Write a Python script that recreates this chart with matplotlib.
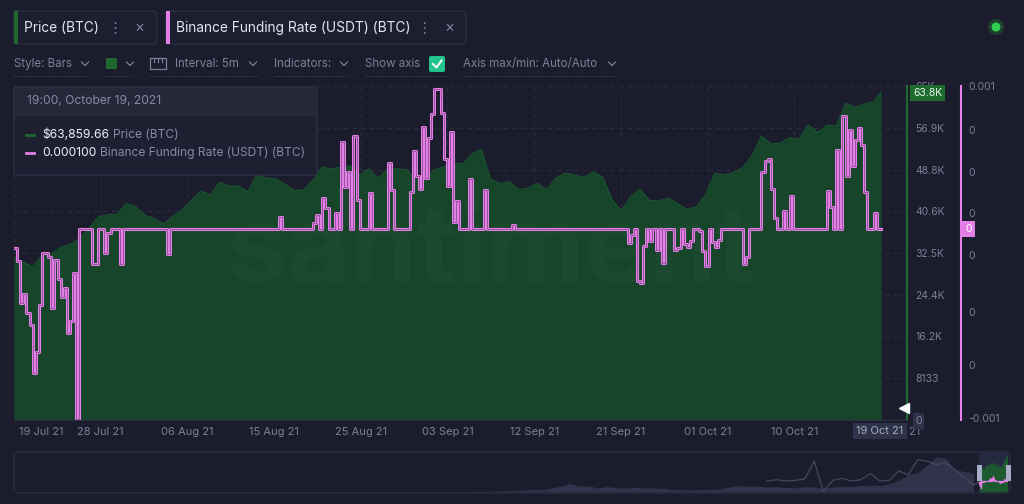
import matplotlib

matplotlib.use("Agg")
import matplotlib.pyplot as plt
import matplotlib.patches as mpatches
from matplotlib.transforms import ScaledTranslation
import pandas as pd

W, H = 1024, 504
BG = "#1b1d2d"
GRID = "#2a2d40"
GREY = "#7c8098"
GREEN_FILL = "#16452a"
GREEN = "#1e6a2e"
PINK = "#e37fe6"
plt.rcParams["font.family"] = ["Inter", "DejaVu Sans"]

# BTC price, one value per day from 19 Jul 2021, then the 19:00 value on 19 Oct
PRICE_START = "2021-07-19"
PRICE_DAILY = [
    31500, 30800, 29800, 32100, 32300, 33600, 34200, 35400, 37300, 39500,
    40000, 40000, 42200,
    41600, 39900, 39200, 38200, 39700, 40900, 42800, 44600, 43800, 46300,
    45600, 45600, 44400, 47800, 47100, 47000, 45900, 44700, 44800, 46700,
    49300, 48900, 49300, 49500, 47700, 48900, 47000, 49000, 48900, 48800,
    46900,
    47100, 48800, 49300, 50000, 49900, 51800, 52700, 46900, 46100, 46400,
    44900, 45200, 46100, 44900, 47100, 48100, 47700, 47300, 48300, 47300,
    43000, 40700, 43600, 44900, 42800, 42700, 43200, 42200, 41000, 41500,
    43800, 48100, 47700, 48200, 49200, 51500, 55300, 53800, 53900, 55000,
    54700, 57500, 56000, 57400, 57300, 61700, 60900, 61500, 62000,
]
PRICE_LAST_TIME = "2021-10-19 19:00"
PRICE_LAST = 63859.66

# Binance funding rate: 8h period index where the value changes, and the value
FUNDING_PERIOD = [
    0, 1, 2, 3, 4, 5, 6, 7, 8, 9, 11, 12, 13, 14, 15, 16, 17, 18, 19, 20,
    21, 25, 27, 29, 30, 31, 34, 35, 49, 50, 85, 86, 96, 97, 98, 99, 100, 101,
    103, 104, 105, 106, 107, 108, 109, 110, 111, 114, 115, 120, 121, 122,
    127, 128, 129, 130, 131, 132, 133, 134, 135, 137, 138, 139, 140, 141,
    142, 143, 146, 147, 151, 152, 160, 161, 197, 198, 199, 200, 201, 202,
    203, 204, 205, 206, 207, 208, 209, 212, 213, 214, 215, 216, 217, 218,
    220, 221, 222, 223, 224, 225, 226, 227, 234, 235, 236, 240, 241, 242,
    243, 244, 245, 247, 248, 249, 250, 261, 262, 263, 264, 265, 266, 267,
    268, 269, 270, 271, 272, 273, 274, 276, 277,
]
FUNDING_VALUE = [
    -0.000003, -0.000071, -0.000293, -0.000245, -0.000345, -0.000409,
    -0.000662, -0.000551, -0.000303, -0.000029, -0.000050, -0.000319,
    -0.000066, -0.000166, -0.000261, -0.000214, -0.000451, -0.000388,
    -0.000135, -0.000904,
    0.0001, -0.000087, 0.0001, -0.000029, 0.000076, 0.0001, -0.000087,
    0.0001, -0.000034, 0.0001, 0.000161, 0.0001, 0.000129, 0.000171, 0.0001,
    0.000261, 0.000208, 0.0001,
    0.000182, 0.0001, 0.000556, 0.000319, 0.000398, 0.0001, 0.000588,
    0.000250, 0.0001, 0.000287, 0.0001, 0.000445, 0.000303, 0.0001,
    0.000292, 0.000509, 0.000377, 0.000308, 0.000635, 0.000366, 0.000577,
    0.000704, 0.000835, 0.000709, 0.000466, 0.000324, 0.000609, 0.000134,
    0.000245, 0.0001, 0.000361, 0.0001, 0.000303, 0.0001, 0.000118, 0.0001,
    0.000024, 0.000066, 0.0001, -0.000177, -0.000187, 0.000008,
    0.0001, 0.000034, 0.0001, -0.000013, 0.0001, -0.000082, 0.0001,
    -0.000013, -0.000003, 0.0001, 0.000018, 0.000002, 0.000034, 0.0001,
    0.000087, -0.000019, -0.000098, 0.0001, 0.000029, 0.000002, 0.000039,
    0.0001, -0.000087, -0.000050, 0.0001, 0.000398, 0.000456, 0.000466,
    0.000308, 0.000155, 0.0001, 0.000192, 0.0001, 0.000271, 0.0001,
    0.000298, 0.000213, 0.0001, 0.000514, 0.0001, 0.000693, 0.000377,
    0.000619, 0.000429, 0.000567, 0.000630, 0.000540, 0.000292, 0.0001,
    0.000182, 0.0001,
]

PRICE_TICKS = [0, 8133, 16266, 24399, 32532, 40665, 48798, 56931, 65064]
PRICE_TICK_LABELS = ["0", "8133", "16.2K", "24.4K", "32.5K", "40.6K",
                     "48.8K", "56.9K", "65K"]
FUNDING_LIM = (-0.000909, 0.000851)
FUNDING_TICKS = [0.00085, 0.00062, 0.0004, 0.00018, -0.00004, -0.00034,
                 -0.00062, -0.0009]
FUNDING_TICK_LABELS = ["0.001", "0", "0", "0", "0", "0", "0", "-0.001"]

# navigator: monthly BTC price since Jan 2013 and monthly funding since Sep 2019
NAV_PRICE_START = "2013-01-01"
NAV_PRICE = [
    20, 33, 93, 139, 129, 97, 106, 135, 133, 198, 1130, 754,
    830, 550, 457, 447, 630, 640, 586, 480, 386, 338, 378, 320,
    217, 254, 244, 236, 230, 263, 284, 230, 236, 314, 377, 430,
    369, 437, 416, 448, 531, 673, 624, 575, 609, 700, 742, 963,
    970, 1190, 1080, 1350, 2300, 2480, 2875, 4700, 4340, 6470, 10200, 14150,
    10200, 10300, 6930, 9240, 7500, 6400, 7730, 7030, 6630, 6320, 4020, 3740,
    3460, 3850, 4100, 5350, 8570, 10800, 10080, 9630, 8290, 9200, 7570, 7190,
    9350, 8600, 6440, 8660, 9460, 9140, 11320, 11650, 10780, 13800, 19700,
    29000,
    33100, 45200, 58900, 57700, 37300, 35000, 31500,
]
NAV_FUNDING_START = "2019-09-01"
NAV_FUNDING = [
    0.0001, 0.0003, 0.0001, 0.0002, 0.0004, 0.0030, -0.0014, 0.0002, 0.0005,
    0.0001, 0.0003, 0.0012, 0.0001, 0.0002, 0.0016, 0.0010, 0.0032, 0.0030,
    0.0025, 0.0028, 0.0018, 0.0006, -0.0005,
]


def fx(x):
    return x / W


def fy(y):
    return 1 - y / H


price_dates = list(pd.date_range(PRICE_START, periods=len(PRICE_DAILY), freq="D"))
price_dates.append(pd.Timestamp(PRICE_LAST_TIME))
price_vals = PRICE_DAILY + [PRICE_LAST]
t0 = price_dates[0]
t_end = price_dates[-1]
span = t_end - t0

fund_times = [t0 + pd.Timedelta(hours=8 * k) for k in FUNDING_PERIOD] + [t_end]
fund_vals = FUNDING_VALUE + [FUNDING_VALUE[-1]]

fig = plt.figure(figsize=(W / 100, H / 100), dpi=100, facecolor=BG)

# ---------------- main chart ----------------
ax = fig.add_axes([fx(14), fy(420), fx(907 - 14), (420 - 86) / H])
ax.set_facecolor("none")
ax.fill_between(price_dates, price_vals, 0, color=GREEN_FILL, lw=0, zorder=1)
ax.plot(price_dates, price_vals, color="#1a5530", lw=0.8, zorder=1.2)
ax.set_xlim(t0, t_end + span * (26 / 867))
ax.set_ylim(0, PRICE_TICKS[-1])

ax2 = ax.twinx()
ax2.set_ylim(*FUNDING_LIM)

ticks = [t0 + span * (i / 10) for i in range(11)]
ax.set_xticks(ticks)
ax.set_xticklabels([t.strftime("%d %b %y") for t in ticks])
ax.tick_params(axis="x", length=0, pad=5, labelsize=8, labelcolor=GREY)
xl = ax.get_xticklabels()
xl[0].set_ha("left")
xl[0].set_transform(xl[0].get_transform() + ScaledTranslation(5 / 100, 0, fig.dpi_scale_trans))
xl[-1].set_transform(xl[-1].get_transform() + ScaledTranslation(16 / 100, 0, fig.dpi_scale_trans))

ax.yaxis.tick_right()
ax.set_yticks(PRICE_TICKS)
ax.set_yticklabels(PRICE_TICK_LABELS)
ax.tick_params(axis="y", which="both", left=False, labelleft=False, right=True,
               labelright=True, length=0, pad=6, labelsize=7.5, labelcolor=GREY)
ax.get_yticklabels()[0].set_bbox(dict(boxstyle="square,pad=0.25", fc="#2f3349", ec="none"))
ax.grid(True, color=GRID, linestyle=(0, (4, 4)), lw=0.8)
ax.set_axisbelow(True)
for side in ["left", "top"]:
    ax.spines[side].set_visible(False)
ax.spines["bottom"].set_color("#2c2f44")
ax.spines["right"].set_color(GREEN)
ax.spines["right"].set_linewidth(1.5)

ax.text(0.535, 0.5, "santiment", transform=ax.transAxes, ha="center", va="center",
        fontsize=78, color="white", alpha=0.022, zorder=3, fontweight="bold")

# funding line: pink stroke with a thin darker core
ax2.step(fund_times, fund_vals, where="post", color=PINK, lw=2.2, zorder=4)
ax2.step(fund_times, fund_vals, where="post", color="#7a4380", lw=0.5, zorder=5)
ax2.set_yticks(FUNDING_TICKS)
ax2.set_yticklabels(FUNDING_TICK_LABELS)
ax2.tick_params(axis="y", length=0, pad=5, labelsize=7.5, labelcolor=GREY)
ax2.get_yticklabels()[-1].set_bbox(dict(boxstyle="square,pad=0.3", fc="#2f3349", ec="none"))
for side in ["left", "top", "bottom"]:
    ax2.spines[side].set_visible(False)
# outward offset is in points: 54 px at 100 dpi
ax2.spines["right"].set_position(("outward", 54 * 0.72))
ax2.spines["right"].set_color(PINK)
ax2.spines["right"].set_linewidth(1.5)

# ---------------- navigator ----------------
nav = fig.add_axes([fx(16), fy(492), fx(1008 - 16), (492 - 453) / H])
nav.set_facecolor("none")
nav.axis("off")
nav_dates = pd.date_range(NAV_PRICE_START, periods=len(NAV_PRICE), freq="MS")
nav.fill_between(nav_dates, NAV_PRICE, 0, color="#30334a", lw=0)
nav.axvspan(t0, t_end, color="#262a40", lw=0)
nav.fill_between(price_dates, price_vals, 0, color="#1d5a30", lw=0)
nav.set_xlim(pd.Timestamp(NAV_PRICE_START), t_end + pd.Timedelta(days=1))
nav.set_ylim(0, 66000)
nav2 = nav.twinx()
nav2.axis("off")
nav_fund_dates = list(pd.date_range(NAV_FUNDING_START, periods=len(NAV_FUNDING), freq="MS")) + [t0]
nav2.plot(nav_fund_dates, NAV_FUNDING + [FUNDING_VALUE[0]], color="#44485f", lw=0.9)
nav2.step(fund_times, fund_vals, where="post", color=PINK, lw=0.9)
nav2.set_ylim(-0.0015, 0.0042)

# ---------------- UI overlay (pixel coordinates) ----------------
ui = fig.add_axes([0, 0, 1, 1])
ui.set_zorder(10)
ui.set_facecolor("none")
ui.set_xlim(0, W)
ui.set_ylim(H, 0)
ui.axis("off")
renderer = fig.canvas.get_renderer()


def box(x0, y0, x1, y1, fc, ec="none", r=3, lw=1, z=1):
    ui.add_patch(mpatches.FancyBboxPatch(
        (x0, y0), x1 - x0, y1 - y0, boxstyle=f"round,pad=0,rounding_size={r}",
        fc=fc, ec=ec, lw=lw, zorder=z))


def chevron(x, y, c=GREY):
    ui.plot([x - 3.5, x, x + 3.5], [y - 2, y + 1.5, y - 2], color=c, lw=0.9)


def text_pair(x, y, first, second, size):
    t = ui.text(x, y, first, color="#eef0f5", fontsize=size, va="center", zorder=3)
    x_end = t.get_window_extent(renderer).x1
    ui.text(x_end + 4, y, second, color="#858aa2", fontsize=size, va="center", zorder=3)


# tabs
box(14, 11, 157, 44, "#1c1f30", "#2a2e40")
ui.add_patch(mpatches.Rectangle((14, 11), 3.5, 33, fc=GREEN, ec="none", zorder=2))
ui.text(24, 28, "Price (BTC)", color="#e4e6ee", fontsize=9.9, va="center")
ui.text(115, 28, "⋮", color=GREY, fontsize=11, va="center", ha="center")
ui.text(140, 27, "×", color=GREY, fontsize=11, va="center", ha="center")
box(166, 11, 466, 44, "#1c1f30", "#2a2e40")
ui.add_patch(mpatches.Rectangle((166, 11), 3.5, 33, fc=PINK, ec="none", zorder=2))
ui.text(176, 28, "Binance Funding Rate (USDT) (BTC)", color="#e4e6ee", fontsize=9.9, va="center")
ui.text(424, 28, "⋮", color=GREY, fontsize=11, va="center", ha="center")
ui.text(449, 27, "×", color=GREY, fontsize=11, va="center", ha="center")
ui.add_patch(mpatches.Circle((996, 27), 8, fc="#1f3f2e", ec="none"))
ui.add_patch(mpatches.Circle((996, 27), 4.5, fc="#2fd04f", ec="none"))

# toolbar
TB = 8.3
ui.text(14, 64, "Style: Bars", color=GREY, fontsize=TB, va="center")
chevron(85, 64)
ui.add_patch(mpatches.Rectangle((106, 58), 11, 11, fc=GREEN, ec="none"))
chevron(130, 64)
ui.plot([150, 150, 166, 166], [69, 58, 58, 69], color=GREY, lw=0.9)
ui.plot([150, 166], [69, 69], color=GREY, lw=0.9)
for tx in [154, 158, 162]:
    ui.plot([tx, tx], [58, 62], color=GREY, lw=0.9)
ui.text(175, 64, "Interval: 5m", color=GREY, fontsize=TB, va="center")
chevron(253, 64)
ui.text(274, 64, "Indicators:", color=GREY, fontsize=TB, va="center")
chevron(344, 64)
ui.text(365, 64, "Show axis", color=GREY, fontsize=TB, va="center")
box(429, 56, 445, 72, "#22c28c", r=2)
ui.plot([433, 436.5, 441.5], [64, 67.5, 60.5], color="white", lw=1.4, zorder=3)
ui.text(463, 64, "Axis max/min: Auto/Auto", color=GREY, fontsize=TB, va="center")
chevron(612, 64)
for x0, x1 in [(13, 89), (105, 133), (150, 257), (274, 348), (365, 446), (463, 617)]:
    ui.plot([x0, x1], [76, 76], color="#353950", lw=0.7, linestyle=(0, (2, 1.5)))

# tooltip
box(14, 87, 317, 175, "#1d2031", "#2f3246", r=2)
ui.add_patch(mpatches.Rectangle((14.5, 87.5), 302, 28, fc="#252839", ec="none", zorder=2))
ui.text(27, 101, "19:00, October 19, 2021", color="#858aa2", fontsize=8.7, va="center", zorder=3)
ui.plot([26, 34], [135, 135], color=GREEN, lw=2, zorder=3)
text_pair(42, 135, "$63,859.66", "Price (BTC)", 8.7)
ui.plot([26, 34], [153, 153], color=PINK, lw=2, zorder=3)
text_pair(42, 153, "0.000100", "Binance Funding Rate (USDT) (BTC)", 8.7)

# axis value markers
ui.text(913, 93, "63.8K", color="#e8f3ea", fontsize=7.5, va="center", zorder=4,
        bbox=dict(boxstyle="square,pad=0.3", fc="#1e6b30", ec="none"))
ui.text(965, 229, "0", color="white", fontsize=7.5, va="center", zorder=4,
        bbox=dict(boxstyle="square,pad=0.3", fc=PINK, ec="none"))
ui.text(880, 431, "19 Oct 21", color="#a9adc2", fontsize=8, va="center", ha="center", zorder=4,
        bbox=dict(boxstyle="square,pad=0.3", fc="#2f3349", ec="none"))
ui.plot([904], [408], marker="<", color="white", ms=7, zorder=4)

# navigator frame and handles
box(14, 452, 1010, 493, "none", "#2a2d40", r=4)
for hx in [977, 1006]:
    ui.add_patch(mpatches.Rectangle((hx, 465), 4.5, 16, fc="#a7acc9", ec="none", zorder=3))

fig.savefig("out.png", dpi=100, facecolor=BG)
